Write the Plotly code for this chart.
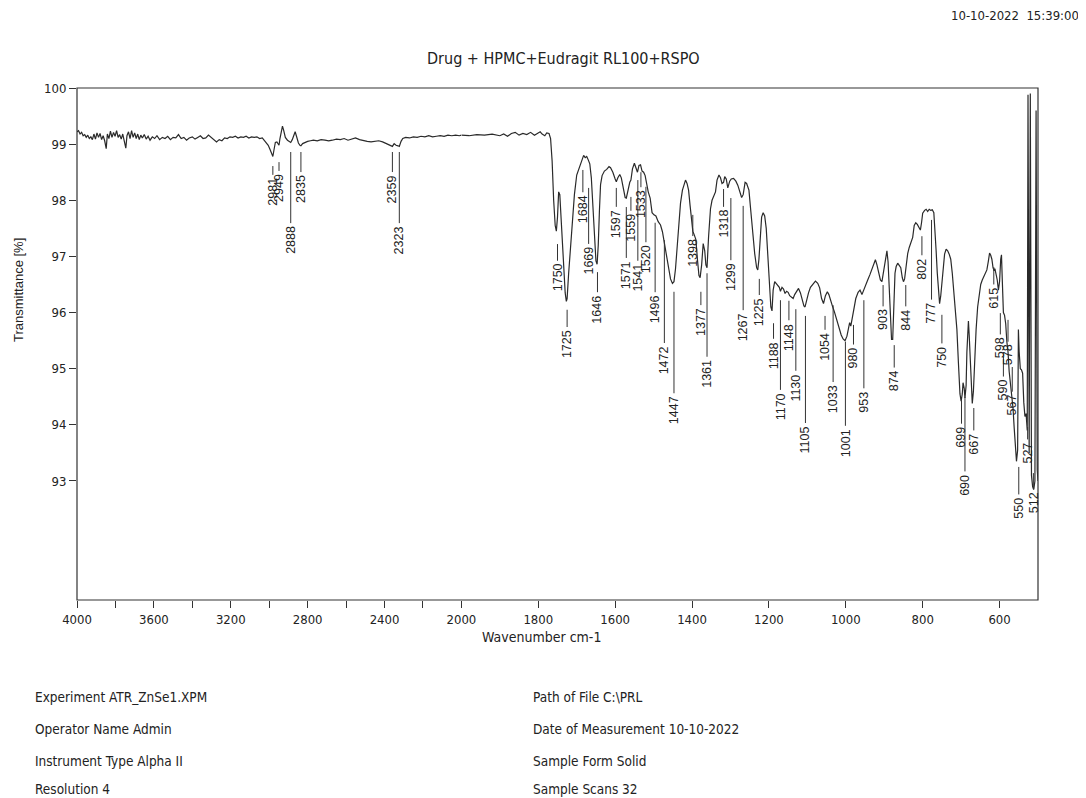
import plotly.graph_objects as go

# ---------------- data ----------------
WAVENUMBER = [
    4000, 3992, 3984, 3976, 3968, 3960, 3952, 3944, 3936, 3928, 3920, 3912, 3904, 3896, 3888, 3880,
    3872, 3864, 3856, 3848, 3842, 3834, 3826, 3818, 3810, 3802, 3794, 3786, 3778, 3770, 3762, 3754,
    3746, 3740, 3732, 3724, 3716, 3708, 3700, 3692, 3684, 3676, 3668, 3660, 3650, 3640, 3630, 3620,
    3608, 3596, 3584, 3570, 3556, 3542, 3528, 3514, 3500, 3486, 3472, 3458, 3444, 3430, 3416, 3400,
    3386, 3372, 3358, 3344, 3330, 3316, 3302, 3288, 3274, 3260, 3246, 3232, 3218, 3204, 3190, 3176,
    3162, 3148, 3134, 3120, 3106, 3092, 3078, 3064, 3050, 3036, 3020, 3005, 2995, 2987, 2981, 2975,
    2968, 2960, 2953, 2949, 2944, 2937, 2931, 2925, 2916, 2905, 2896, 2888, 2880, 2872, 2865, 2858,
    2848, 2840, 2835, 2826, 2815, 2800, 2785, 2770, 2750, 2730, 2710, 2690, 2672, 2650, 2630, 2610,
    2590, 2570, 2551, 2530, 2510, 2490, 2470, 2450, 2430, 2410, 2395, 2380, 2368, 2359, 2350, 2340,
    2330, 2323, 2314, 2305, 2290, 2270, 2250, 2230, 2210, 2190, 2170, 2150, 2130, 2110, 2090, 2070,
    2050, 2030, 2010, 2000, 1980, 1960, 1940, 1920, 1900, 1890, 1880, 1870, 1860, 1850, 1840, 1830,
    1820, 1810, 1800, 1795, 1790, 1783, 1778, 1772, 1768, 1764, 1760, 1756, 1753, 1750, 1747, 1744,
    1740, 1735, 1730, 1727, 1725, 1721, 1716, 1712, 1706, 1700, 1694, 1690, 1686, 1682, 1678, 1674,
    1670, 1666, 1662, 1658, 1654, 1650, 1647, 1644, 1641, 1638, 1634, 1628, 1622, 1616, 1612, 1606,
    1600, 1597, 1593, 1588, 1584, 1579, 1574, 1571, 1567, 1562, 1559, 1555, 1550, 1546, 1542, 1538,
    1534, 1530, 1526, 1522, 1518, 1514, 1509, 1504, 1499, 1494, 1488, 1482, 1477, 1472, 1468, 1462,
    1456, 1451, 1447, 1443, 1439, 1435, 1430, 1425, 1420, 1417, 1413, 1409, 1405, 1401, 1398, 1394,
    1390, 1386, 1382, 1379, 1375, 1371, 1367, 1364, 1361, 1357, 1352, 1348, 1343, 1339, 1335, 1330,
    1326, 1322, 1318, 1315, 1311, 1307, 1302, 1298, 1292, 1286, 1281, 1276, 1271, 1267, 1262, 1258,
    1252, 1247, 1242, 1237, 1232, 1229, 1226, 1223, 1219, 1215, 1211, 1207, 1203, 1199, 1195, 1192,
    1189, 1185, 1181, 1177, 1173, 1170, 1166, 1162, 1158, 1154, 1150, 1146, 1141, 1137, 1133, 1128,
    1123, 1118, 1113, 1109, 1106, 1102, 1097, 1092, 1085, 1079, 1073, 1068, 1063, 1058, 1053, 1048,
    1044, 1040, 1035, 1030, 1024, 1018, 1012, 1007, 1002, 997, 993, 990, 987, 983, 979, 974,
    968, 963, 958, 954, 949, 943, 937, 931, 927, 923, 919, 915, 910, 906, 902, 897,
    893, 890, 887, 884, 881, 878, 875, 872, 869, 865, 861, 857, 853, 850, 847, 843,
    839, 835, 830, 826, 822, 818, 814, 810, 806, 803, 800, 795, 791, 787, 783, 779,
    775, 771, 768, 765, 762, 759, 756, 753, 750, 747, 743, 739, 735, 731, 727, 723,
    719, 715, 711, 707, 703, 700, 697, 695, 692, 690, 687, 685, 683, 681, 679, 676,
    673, 671, 668, 665, 661, 657, 653, 649, 645, 641, 637, 633, 629, 626, 623, 620,
    617, 615, 612, 609, 606, 603, 600, 597, 595, 593, 590, 587, 584, 581, 578, 575,
    571, 568, 565, 562, 559, 556, 553, 551, 549, 546, 543, 540, 537, 534, 531, 528,
    526, 523, 520, 517, 514, 511, 508, 505, 502, 500,
]

TRANSMITTANCE = [
    99.22, 99.24, 99.18, 99.21, 99.15, 99.17, 99.12, 99.16, 99.10, 99.13, 99.08, 99.18, 99.09, 99.20, 99.12, 99.19,
    99.08, 99.15, 99.06, 98.92, 99.18, 99.10, 99.23, 99.12, 99.21, 99.14, 99.24, 99.12, 99.17, 99.09, 99.18, 99.06,
    98.93, 99.15, 99.22, 99.10, 99.24, 99.12, 99.20, 99.10, 99.18, 99.08, 99.16, 99.11, 99.17, 99.09, 99.14, 99.07,
    99.13, 99.10, 99.15, 99.08, 99.12, 99.10, 99.14, 99.08, 99.12, 99.11, 99.17, 99.10, 99.12, 99.07, 99.11, 99.13,
    99.09, 99.12, 99.15, 99.10, 99.11, 99.16, 99.12, 99.09, 99.04, 99.08, 99.06, 99.11, 99.10, 99.13, 99.12, 99.14,
    99.11, 99.13, 99.12, 99.14, 99.11, 99.13, 99.12, 99.13, 99.10, 99.11, 99.05, 98.98, 98.90, 98.82, 98.78, 98.90,
    99.03, 99.04, 99.00, 98.98, 99.10, 99.25, 99.32, 99.25, 99.12, 99.07, 99.04, 99.03, 99.08, 99.18, 99.22, 99.14,
    99.02, 98.98, 98.97, 99.01, 99.03, 99.05, 99.06, 99.07, 99.06, 99.08, 99.07, 99.06, 99.07, 99.09, 99.08, 99.10,
    99.07, 99.09, 99.11, 99.08, 99.06, 99.05, 99.04, 99.05, 99.06, 99.04, 99.02, 99.00, 98.98, 98.96, 99.01, 98.98,
    98.97, 98.96, 99.05, 99.10, 99.12, 99.11, 99.13, 99.12, 99.14, 99.13, 99.15, 99.13, 99.14, 99.15, 99.14, 99.16,
    99.15, 99.16, 99.15, 99.16, 99.15, 99.17, 99.16, 99.18, 99.15, 99.18, 99.14, 99.19, 99.21, 99.16, 99.19, 99.17,
    99.21, 99.16, 99.20, 99.22, 99.18, 99.15, 99.20, 99.19, 99.10, 98.70, 98.00, 97.55, 97.45, 97.70, 98.15, 98.10,
    97.60, 96.90, 96.35, 96.20, 96.25, 96.70, 97.20, 97.60, 98.10, 98.45, 98.58, 98.66, 98.72, 98.80, 98.76, 98.78,
    98.72, 98.65, 98.40, 97.90, 97.30, 96.92, 96.86, 97.20, 97.80, 98.28, 98.44, 98.52, 98.55, 98.60, 98.58, 98.50,
    98.38, 98.33, 98.40, 98.46, 98.40, 98.24, 98.05, 98.04, 98.18, 98.32, 98.36, 98.56, 98.66, 98.58, 98.50, 98.62,
    98.63, 98.52, 98.50, 98.44, 98.26, 98.15, 98.04, 97.78, 97.74, 97.72, 97.62, 97.56, 97.44, 97.25, 97.08, 96.80,
    96.60, 96.52, 96.55, 96.78, 97.20, 97.60, 97.95, 98.18, 98.32, 98.36, 98.30, 98.18, 97.90, 97.55, 97.45, 97.38,
    97.30, 96.95, 96.66, 96.62, 96.85, 97.23, 97.10, 96.85, 96.80, 97.35, 97.85, 98.00, 98.08, 98.15, 98.36, 98.45,
    98.40, 98.30, 98.32, 98.42, 98.38, 98.22, 98.34, 98.38, 98.39, 98.34, 98.27, 98.15, 98.05, 98.10, 98.32, 98.30,
    98.18, 97.80, 97.40, 97.05, 96.80, 96.76, 96.95, 97.30, 97.70, 97.78, 97.72, 97.50, 97.05, 96.50, 96.10, 96.03,
    96.40, 96.55, 96.52, 96.48, 96.45, 96.38, 96.45, 96.42, 96.34, 96.38, 96.36, 96.30, 96.27, 96.25, 96.32, 96.38,
    96.43, 96.35, 96.20, 96.12, 96.10, 96.22, 96.35, 96.45, 96.52, 96.56, 96.52, 96.44, 96.25, 96.16, 96.30, 96.37,
    96.32, 96.22, 96.12, 96.02, 95.88, 95.74, 95.60, 95.53, 95.50, 95.58, 95.72, 95.82, 95.76, 95.90, 96.08, 96.25,
    96.36, 96.40, 96.32, 96.40, 96.46, 96.58, 96.68, 96.79, 96.85, 96.94, 96.85, 96.72, 96.58, 96.55, 96.72, 96.95,
    97.10, 96.90, 96.50, 95.90, 95.52, 95.52, 96.20, 96.70, 96.82, 96.88, 96.84, 96.80, 96.62, 96.55, 96.60, 96.82,
    97.05, 97.16, 97.26, 97.34, 97.55, 97.60, 97.57, 97.52, 97.47, 97.60, 97.77, 97.82, 97.84, 97.80, 97.84, 97.82,
    97.83, 97.78, 97.50, 97.10, 96.70, 96.38, 96.16, 96.30, 96.55, 96.85, 97.04, 97.13, 97.10, 97.04, 96.95, 96.70,
    96.40, 96.05, 95.70, 95.10, 94.55, 94.42, 94.55, 94.75, 94.65, 94.48, 94.70, 95.30, 95.80, 95.85, 95.60, 95.00,
    94.55, 94.38, 94.60, 95.10, 95.70, 96.10, 96.35, 96.50, 96.58, 96.64, 96.70, 96.76, 96.92, 97.06, 97.02, 96.95,
    96.80, 96.76, 96.78, 96.70, 96.58, 96.40, 96.55, 96.95, 97.03, 96.60, 96.00, 95.95, 95.80, 95.48, 95.30, 94.95,
    94.70, 94.50, 94.30, 93.95, 93.60, 93.35, 93.55, 95.70, 95.30, 95.00, 94.98, 94.92, 94.40, 94.15, 94.20, 93.90,
    99.88, 93.50, 99.90, 93.10, 92.90, 92.85, 93.00, 99.60, 93.20, 93.00,
]

PEAK_LABELS = [
    2981, 2949, 2888, 2835, 2359, 2323, 1750, 1725, 1684, 1669, 1646, 1597, 1571, 1559, 1541, 1533,
    1520, 1496, 1472, 1447, 1398, 1377, 1361, 1318, 1299, 1267, 1225, 1188, 1170, 1148, 1130, 1105,
    1054, 1033, 1001, 980, 953, 903, 874, 844, 802, 777, 750, 699, 690, 667, 615, 598,
    590, 578, 567, 550, 527, 512,
]

# label stacking (y of the top of each marker line and of each label centre, in % T)
LABEL_LINE_TOP = [
    98.61, 98.68, 98.86, 98.86, 98.86, 98.86, 97.22, 96.05, 98.54, 98.22, 96.72, 98.22, 97.88, 98.06, 98.36, 98.50,
    98.24, 97.60, 97.29, 96.37, 97.74, 96.37, 96.70, 98.20, 98.04, 97.90, 96.60, 95.81, 96.22, 96.21, 96.06, 95.94,
    95.94, 96.13, 95.48, 95.78, 96.22, 96.49, 95.42, 96.49, 97.36, 97.65, 95.96, 94.44, 94.50, 94.30, 96.81, 95.99,
    95.21, 95.87, 95.03, 93.25, 93.96, 93.14,
]
LABEL_TEXT_Y = [
    98.15, 98.22, 97.29, 98.20, 98.20, 97.29, 96.62, 95.44, 97.84, 96.92, 96.06, 97.58, 96.67, 97.51, 96.62, 97.93,
    96.95, 96.06, 95.155, 94.26, 97.06, 95.83, 94.91, 97.58, 96.63, 95.74, 96.01, 95.23, 94.32, 95.56, 94.66, 93.73,
    95.39, 94.46, 93.68, 95.19, 94.41, 95.87, 94.78, 95.87, 96.78, 95.99, 95.21, 93.78, 92.93, 93.66, 96.26, 95.37,
    94.62, 95.24, 94.35, 92.52, 93.50, 92.61,
]

X_TICKS_HIGH = [4000, 3800, 3600, 3400, 3200, 3000, 2800, 2600, 2400, 2200]
X_TEXT_HIGH = ["4000", "", "3600", "", "3200", "", "2800", "", "2400", ""]
X_TICKS_LOW = [2000, 1800, 1600, 1400, 1200, 1000, 800, 600]
Y_TICKS = [100, 99, 98, 97, 96, 95, 94, 93]

TITLE = "Drug + HPMC+Eudragit RL100+RSPO"
TIMESTAMP = "10-10-2022  15:39:00"
INFO_LEFT = ["Experiment ATR_ZnSe1.XPM", "Operator Name Admin", "Instrument Type Alpha II", "Resolution 4"]
INFO_RIGHT = ["Path of File C:\\PRL", "Date of Measurement 10-10-2022", "Sample Form Solid", "Sample Scans 32"]

# ---------------- figure ----------------
PAGE_W, PAGE_H = 1086, 798
OFF = 8                      # body margin of the html page
W, H = PAGE_W - OFF, PAGE_H - OFF
PLOT_L, PLOT_R, PLOT_T, PLOT_B = 77, 1038, 88, 600   # in page pixels
ML, MR, MT, MB = PLOT_L - OFF, PAGE_W - PLOT_R, PLOT_T - OFF, PAGE_H - PLOT_B
PLOT_W = PLOT_R - PLOT_L
PLOT_H = PLOT_B - PLOT_T
Y_RANGE = [90.88, 100]
PX_PER_Y = PLOT_H / (Y_RANGE[1] - Y_RANGE[0])
SPLIT = 0.4

TXT = "#222222"
NARROW = "Liberation Sans Narrow, Arial Narrow, DejaVu Sans Condensed, Liberation Sans, Arial, sans-serif"
SANS = "Liberation Sans, Arial, sans-serif"

hi_x = [w for w in WAVENUMBER if w >= 2000]
hi_y = [t for w, t in zip(WAVENUMBER, TRANSMITTANCE) if w >= 2000]
lo_x = [w for w in WAVENUMBER if w <= 2000]
lo_y = [t for w, t in zip(WAVENUMBER, TRANSMITTANCE) if w <= 2000]

fig = go.Figure()
line_style = dict(color="#2a2a2a", width=1.2)
fig.add_trace(go.Scatter(x=hi_x, y=hi_y, mode="lines", line=line_style, xaxis="x", yaxis="y",
                         showlegend=False, hoverinfo="skip"))
fig.add_trace(go.Scatter(x=lo_x, y=lo_y, mode="lines", line=line_style, xaxis="x2", yaxis="y",
                         showlegend=False, hoverinfo="skip"))

shapes = []
annotations = []
for wn, top, ty in zip(PEAK_LABELS, LABEL_LINE_TOP, LABEL_TEXT_Y):
    xr = "x" if wn > 2000 else "x2"
    txt = str(wn)
    half_len_px = len(txt) * 3.5 + 3
    bottom = ty + half_len_px / PX_PER_Y
    if bottom < top:
        shapes.append(dict(type="line", xref=xr, yref="y", x0=wn, x1=wn, y0=top, y1=bottom,
                           line=dict(color="#333333", width=1)))
    annotations.append(dict(x=wn, y=ty, xref=xr, yref="y", text=txt, textangle=-90, showarrow=False,
                            xanchor="center", yanchor="middle",
                            font=dict(family=SANS, size=12.5, color=TXT)))

# plot frame
shapes.append(dict(type="rect", xref="paper", yref="paper", x0=0, x1=1, y0=0, y1=1,
                   line=dict(color="#333333", width=1.2)))


def px_to_paper_x(px):
    return (px - PLOT_L) / PLOT_W


def px_to_paper_y(py):
    return (PLOT_B - py) / PLOT_H


annotations.append(dict(x=px_to_paper_x(563), y=px_to_paper_y(58), xref="paper", yref="paper",
                        text=TITLE, showarrow=False, xanchor="center", yanchor="middle",
                        font=dict(family=NARROW, size=16, color=TXT)))
annotations.append(dict(x=px_to_paper_x(1081), y=px_to_paper_y(15), xref="paper", yref="paper",
                        text=TIMESTAMP, showarrow=False, xanchor="right", yanchor="middle",
                        font=dict(family=NARROW, size=13, color=TXT)))
annotations.append(dict(x=px_to_paper_x(541), y=px_to_paper_y(637), xref="paper", yref="paper",
                        text="Wavenumber cm-1", showarrow=False, xanchor="center", yanchor="middle",
                        font=dict(family=NARROW, size=14, color=TXT)))
annotations.append(dict(x=px_to_paper_x(18), y=px_to_paper_y(290), xref="paper", yref="paper",
                        text="Transmittance [%]", showarrow=False, textangle=-90,
                        xanchor="center", yanchor="middle",
                        font=dict(family=SANS, size=13, color=TXT)))
INFO_ROWS_Y = [697, 729, 761, 789]
for a, b, py in zip(INFO_LEFT, INFO_RIGHT, INFO_ROWS_Y):
    annotations.append(dict(x=px_to_paper_x(33), y=px_to_paper_y(py), xref="paper", yref="paper",
                            text=a, showarrow=False, xanchor="left", yanchor="middle",
                            font=dict(family=NARROW, size=13.5, color=TXT)))
    annotations.append(dict(x=px_to_paper_x(531), y=px_to_paper_y(py), xref="paper", yref="paper",
                            text=b, showarrow=False, xanchor="left", yanchor="middle",
                            font=dict(family=NARROW, size=13.5, color=TXT)))

axis_common = dict(showgrid=False, zeroline=False, showline=False, ticks="outside", ticklen=7,
                   tickwidth=1, tickcolor="#333333",
                   tickfont=dict(family=NARROW, size=13, color=TXT))

fig.update_layout(
    width=W, height=H,
    margin=dict(l=ML, r=MR, t=MT, b=MB, pad=0),
    paper_bgcolor="white", plot_bgcolor="white",
    xaxis=dict(domain=[0, SPLIT], range=[4000, 2000], tickmode="array",
               tickvals=X_TICKS_HIGH, ticktext=X_TEXT_HIGH, anchor="y", **axis_common),
    xaxis2=dict(domain=[SPLIT, 1], range=[2000, 500], tickmode="array",
                tickvals=X_TICKS_LOW, ticktext=[str(v) for v in X_TICKS_LOW], anchor="y", **axis_common),
    yaxis=dict(domain=[0, 1], range=Y_RANGE, tickmode="array", tickvals=Y_TICKS,
               ticktext=[str(v) for v in Y_TICKS], **axis_common),
    shapes=shapes,
    annotations=annotations,
)

fig.write_html("out.html")
